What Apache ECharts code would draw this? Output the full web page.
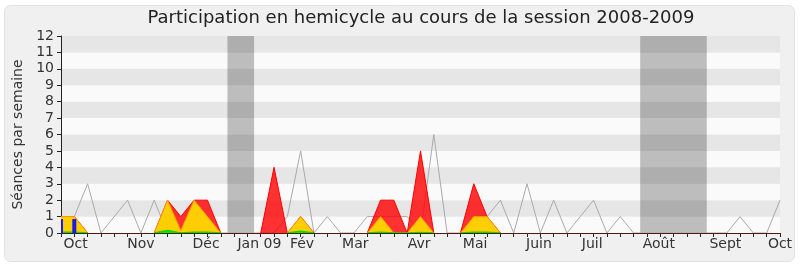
<!DOCTYPE html>
<html>
<head>
<meta charset="utf-8">
<script src="https://cdn.jsdelivr.net/npm/echarts@6/dist/echarts.min.js"></script>
<style>
html,body{margin:0;padding:0;background:#ffffff;}
#chart{width:800px;height:267px;}
</style>
</head>
<body>
<div id="chart"></div>
<script>
// ---- data (week index 0..54) ----
var monthLabels = ['Oct','Nov','Déc','Jan 09','Fév','Mar','Avr','Mai','Juin','Juil','Août','Sept','Oct'];
var monthWeeks  = [1.1, 6.0, 10.9, 14.9, 18.1, 22.1, 26.9, 31.1, 35.9, 39.9, 44.9, 49.9, 54];

// grey line : séances de la semaine
var seances = [1,1,3,0,1,2,0,2,0,0, 0,0,0,0,0,0,0,1,5,0, 1,0,0,1,1,1,1,0,6,0, 0,1,1,2,0,3,0,2,0,1, 2,0,1,0,0,0,0,0,0,0, 0,1,0,0,2];
// red area : présences
var presences = [1,1,0,0,0,0,0,0,2,1, 2,2,0,0,0,0,4,0,1,0, 0,0,0,0,2,2,0,5,0,0, 0,3,1,0,0,0,0,0,0,0, 0,0,0,0,0,0,0,0,0,0, 0,0,0,0,0];
// yellow area : interventions
var interventions = [1,1,0,0,0,0,0,0,2,0.15, 2,1,0,0,0,0,0,0,1,0, 0,0,0,0,1,0,0,1,0,0, 0,1,1,0,0,0,0,0,0,0, 0,0,0,0,0,0,0,0,0,0, 0,0,0,0,0];
// green area : questions
var questions = [0.05,0.05,0,0,0,0,0,0,0.15,0, 0.05,0.05,0,0,0,0,0,0,0.1,0, 0,0,0,0,0.05,0,0,0.03,0,0, 0,0.05,0.05,0,0,0,0,0,0,0, 0,0,0,0,0,0,0,0,0,0, 0,0,0,0,0];
// blue bars
var barWeeks = [0, 1];
var barValues = [0.85, 0.85];
// vacances parlementaires (week ranges)
var vacStart = [12.5, 43.5];
var vacEnd   = [14.5, 48.5];

var nWeeks = seances.length;
function pairs(arr){ return arr.map(function(v,i){ return [i, v]; }); }
// hide flat zero runs (keep the zero ends of each non-zero segment)
function pairsSparse(arr){
  return arr.map(function(v,i){
    var prev = i > 0 ? arr[i-1] : 0, next = i < arr.length-1 ? arr[i+1] : 0;
    if (v === 0 && prev === 0 && next === 0) return [i, null];
    return [i, v];
  });
}
var weekTicks = seances.map(function(v,i){ return i; });

var chart = echarts.init(document.getElementById('chart'), null, {renderer:'canvas'});
var FONT = 'DejaVu Sans';

var option = {
  animation: false,
  backgroundColor: '#ffffff',
  textStyle: {fontFamily: FONT},
  graphic: [{
    type: 'rect', z: -10, silent: true,
    shape: {x: 4.5, y: 5.5, width: 790, height: 256, r: 6},
    style: {fill: '#f0f0f0', stroke: '#e2e2e2', lineWidth: 1}
  }, {
    type: 'text', left: 420.5 - 273, top: 9, silent: true,
    style: {text: 'Participation en hemicycle au cours de la session 2008-2009',
            font: '18px "DejaVu Sans"', fill: '#222'}
  }],
  grid: {left: 61, right: 20, top: 36, bottom: 34, containLabel: false},
  xAxis: [{
    type: 'value', min: 0, max: nWeeks - 1, interval: 1, z: 10,
    axisLine: {show: true, onZero: false, lineStyle: {color: '#5a1408', width: 1}},
    axisTick: {show: true, length: 4, customValues: weekTicks, lineStyle: {color: '#222'}},
    axisLabel: {
      customValues: monthWeeks, margin: 4, color: '#333', fontFamily: FONT, fontSize: 14,
      formatter: function(v){
        var best = 0, d = 1e9;
        for (var k = 0; k < monthWeeks.length; k++) { var dd = Math.abs(monthWeeks[k]-v); if (dd < d) { d = dd; best = k; } }
        return monthLabels[best];
      }
    },
    splitLine: {show: false}
  }, {
    type: 'value', position: 'top', min: 0, max: nWeeks - 1, interval: 1, z: 10,
    axisLine: {show: false},
    axisTick: {show: true, inside: true, length: 1, customValues: weekTicks, lineStyle: {color: '#333'}},
    axisLabel: {show: false},
    splitLine: {show: false}
  }],
  yAxis: {
    type: 'value', min: 0, max: 12, interval: 1,
    name: 'Séances par semaine', nameLocation: 'middle', nameGap: 35,
    nameTextStyle: {fontFamily: FONT, fontSize: 14, color: '#333'},
    axisLine: {show: true, lineStyle: {color: '#222'}},
    axisTick: {show: true, length: 4, lineStyle: {color: '#222'}},
    axisLabel: {margin: 7, color: '#333', fontFamily: FONT, fontSize: 14},
    splitLine: {show: false},
    splitArea: {show: true, areaStyle: {color: ['#fafafa', '#e6e6e6']}}
  },
  series: [{
    name: 'seances', type: 'line', data: pairs(seances), symbol: 'none',
    lineStyle: {color: '#aaaaaa', width: 1}, z: 2,
    markArea: {
      silent: true,
      itemStyle: {color: 'rgba(0,0,0,0.245)'},
      data: vacStart.map(function(s,k){ return [{xAxis: s}, {xAxis: vacEnd[k]}]; })
    }
  }, {
    name: 'presences', type: 'line', data: pairsSparse(presences), symbol: 'none',
    lineStyle: {color: '#ff0000', width: 1},
    areaStyle: {color: '#ff0000', opacity: 0.8, origin: 'start'}, z: 3
  }, {
    name: 'interventions', type: 'line', data: pairsSparse(interventions), symbol: 'none',
    lineStyle: {color: '#ff9900', width: 1},
    areaStyle: {color: '#ffd700', opacity: 0.95, origin: 'start'}, z: 4
  }, {
    name: 'questions', type: 'line', data: pairsSparse(questions), symbol: 'none',
    lineStyle: {color: '#00dd00', width: 1.5},
    areaStyle: {color: '#00ee00', opacity: 1, origin: 'start'}, z: 5
  }, {
    name: 'bars', type: 'custom', z: 6,
    data: barWeeks.map(function(w,k){ return [w, barValues[k]]; }),
    renderItem: function(params, api){
      var top = api.coord([api.value(0), api.value(1)]);
      var base = api.coord([api.value(0), 0]);
      var rect = echarts.graphic.clipRectByRect(
        {x: top[0] - 2, y: top[1], width: 4, height: base[1] - top[1]},
        {x: params.coordSys.x, y: params.coordSys.y, width: params.coordSys.width, height: params.coordSys.height});
      return rect && {type: 'rect', shape: rect, style: {fill: '#1a1aee'}};
    }
  }]
};
chart.setOption(option);
</script>
</body>
</html>
